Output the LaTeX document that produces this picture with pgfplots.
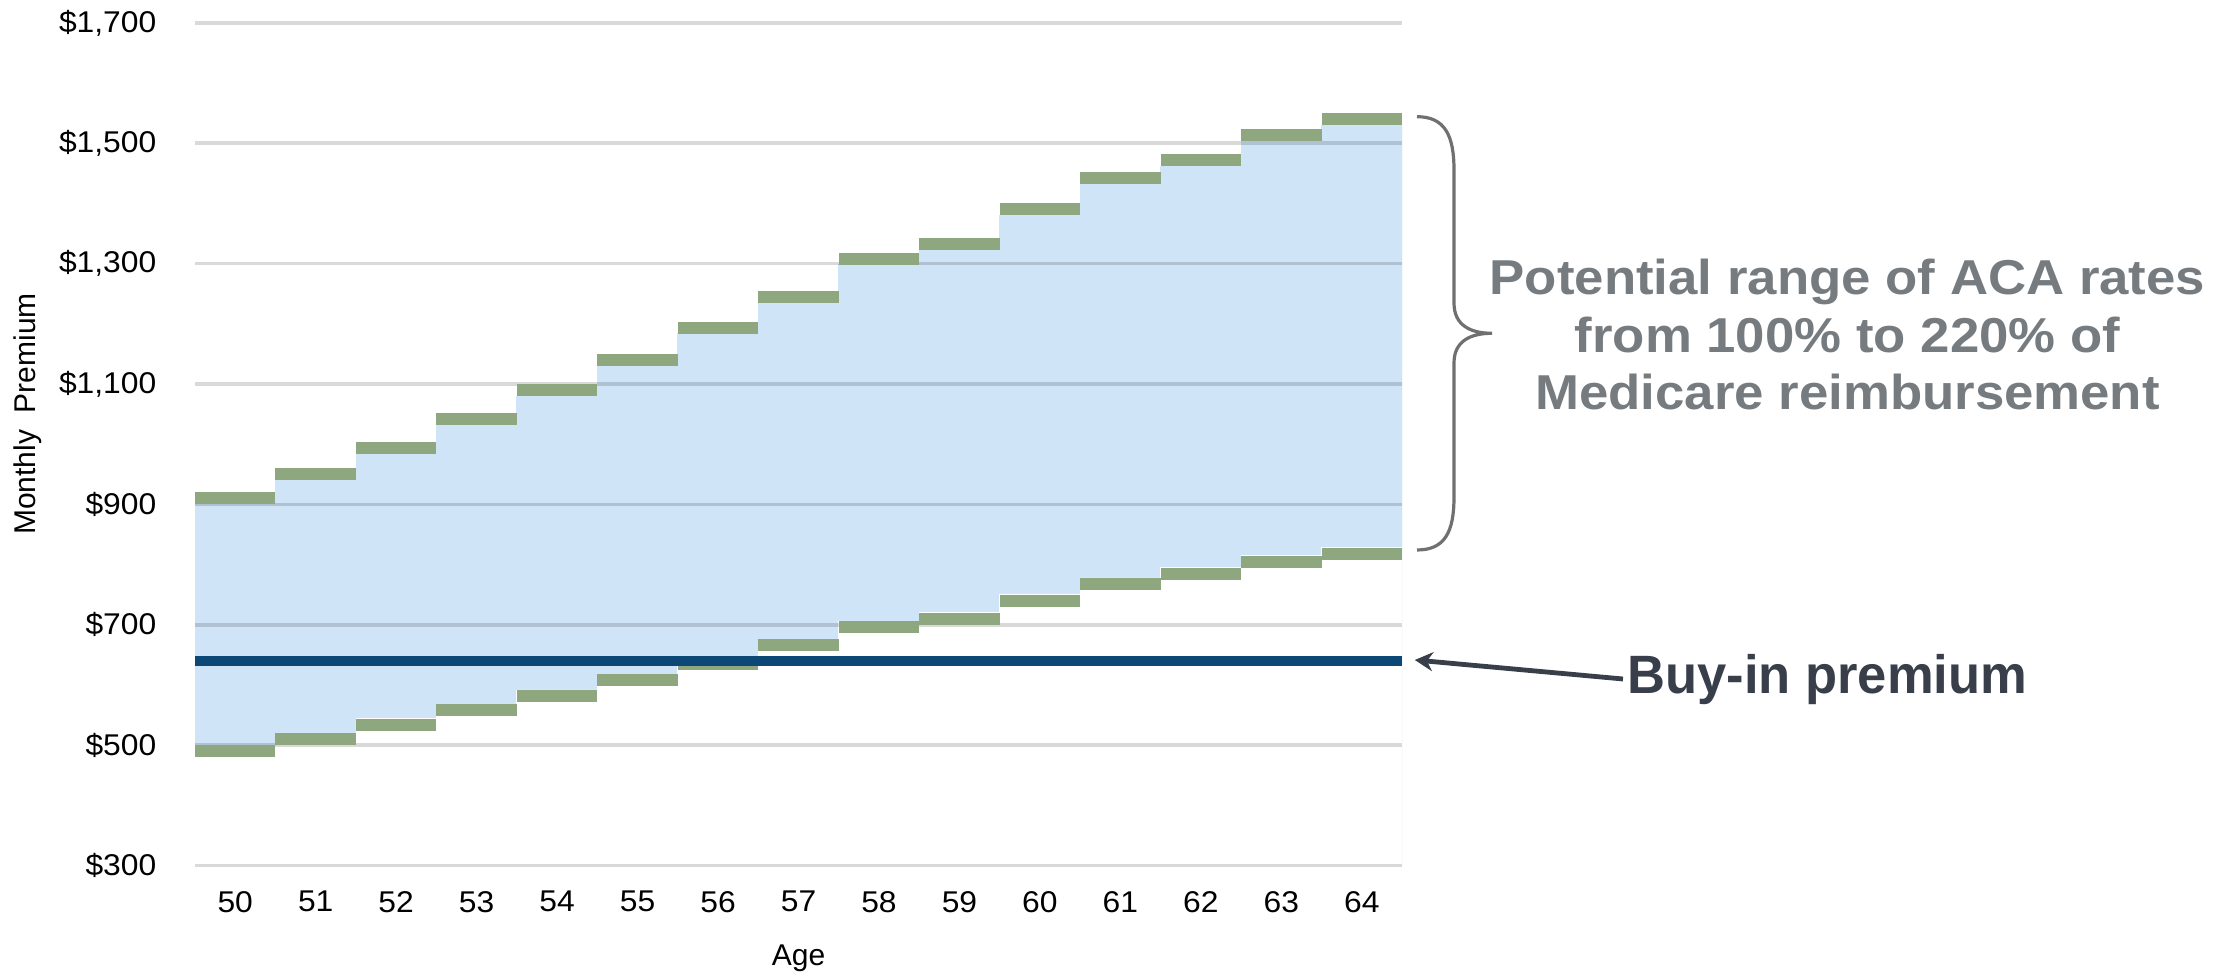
\documentclass[border=0pt]{standalone}
\usepackage{pgfplots}
\pgfplotsset{compat=1.18}
\usepackage{pgfplotstable}
\usepackage{fontspec}
\setmainfont{Liberation Sans}
\usetikzlibrary{arrows.meta}

\definecolor{bandblue}{RGB}{207,228,247}
\definecolor{stepgreen}{RGB}{143,167,126}
\definecolor{buyinnavy}{RGB}{11,72,118}
\definecolor{notegrey}{RGB}{118,123,127}
\definecolor{buyintext}{RGB}{56,63,74}
\definecolor{bracegrey}{RGB}{112,112,112}

% Monthly premium by age: ACA rate range (low = 100%, high = 220% of
% Medicare reimbursement) and the flat buy-in premium
\pgfplotstableread{
age low  high buyin
50  500  900  640
51  520  940  640
52  544  984  640
53  568  1032 640
54  592  1080 640
55  618  1130 640
56  645  1184 640
57  676  1235 640
58  706  1298 640
59  720  1323 640
60  750  1381 640
61  778  1432 640
62  795  1462 640
63  815  1503 640
64  828  1530 640
}\rates

\begin{document}
\begin{tikzpicture}
\begin{axis}[
  set layers, clip mode=individual,
  scale only axis, width=603.5pt, height=421.4pt,
  xmin=49.5, xmax=64.5, ymin=300, ymax=1700,
  xtick={50,...,64},
  ytick={300,500,...,1700},
  yticklabels={\$300,\$500,\$700,\$900,{\$1,100},{\$1,300},{\$1,500},{\$1,700}},
  /pgf/number format/assume math mode=true,
  axis line style={draw=none},
  major tick length=0pt,
  ymajorgrids, grid style={black, opacity=0.15, line width=1.8pt},
  tick label style={font=\fontsize{15}{18}\selectfont, inner sep=0pt},
  xticklabel style={anchor=north, yshift=-12.5pt, xscale=1.06},
  yticklabel style={anchor=east, xshift=-19.15pt, xscale=1.06},
  xlabel={Age}, ylabel={Monthly~~Premium},
  label style={font=\fontsize{15}{18}\selectfont, inner sep=0pt},
  xlabel style={at={(axis description cs:0.5,-0.1187)}, anchor=base},
  ylabel style={at={(axis description cs:-0.1384,0.536)}, anchor=center},
]
% band between the low and high rate, one step per age
\addplot[ybar, bar width=1, bar shift=0pt, fill=bandblue, draw=bandblue,
  line width=0.4pt, on layer=axis background] table[x=age, y=high] {\rates};
\addplot[ybar, bar width=1, bar shift=0pt, fill=white, draw=white,
  line width=0.4pt, on layer=axis background] table[x=age, y=low] {\rates};
% step markers along both edges of the band
\addplot[only marks, mark=-, mark size=20.12pt, color=stepgreen,
  mark options={line width=6pt, yshift=3pt}] table[x=age, y=high] {\rates};
\addplot[only marks, mark=-, mark size=20.12pt, color=stepgreen,
  mark options={line width=6pt, yshift=-3pt}] table[x=age, y=low] {\rates};
% buy-in premium
\addplot[only marks, mark=-, mark size=20.12pt, color=buyinnavy,
  mark options={line width=5pt}] table[x=age, y=buyin] {\rates};
\end{axis}

% brace spanning the rate range
\draw[line width=1.6pt, bracegrey]
  (611pt,374.5pt) .. controls (625pt,374.5pt) and (629.5pt,365pt) .. (629.5pt,347.85pt)
  -- (629.5pt,281.35pt)
  .. controls (629.5pt,270pt) and (638pt,266.2pt) .. (648.5pt,266.2pt)
  .. controls (638pt,266.2pt) and (629.5pt,262.5pt) .. (629.5pt,251.35pt)
  -- (629.5pt,184.35pt)
  .. controls (629.5pt,167pt) and (625pt,157.85pt) .. (611pt,157.85pt);

\begin{scope}[every node/.style={anchor=base, inner sep=0pt, text=notegrey,
    font=\fontsize{24.5}{29}\selectfont\bfseries, xscale=1.077}]
  \node at (826.25pt,285.35pt) {Potential range of ACA rates};
  \node at (826.25pt,256.6pt) {from 100\% to 220\% of};
  \node at (826.25pt,227.85pt) {Medicare reimbursement};
\end{scope}

\node[anchor=base west, inner sep=0pt, text=buyintext,
  font=\fontsize{27}{32}\selectfont\bfseries, xscale=0.973]
  at (716pt,85.85pt) {Buy-in premium};
\draw[-{Stealth[length=9pt,width=9.5pt]}, line width=2.4pt, buyintext]
  (714pt,93.35pt) -- (609.9pt,102.85pt);

\pgfresetboundingbox
\path[use as bounding box] (-97.5pt,-53.65pt) rectangle (1022pt,432.85pt);
\end{tikzpicture}
\end{document}
